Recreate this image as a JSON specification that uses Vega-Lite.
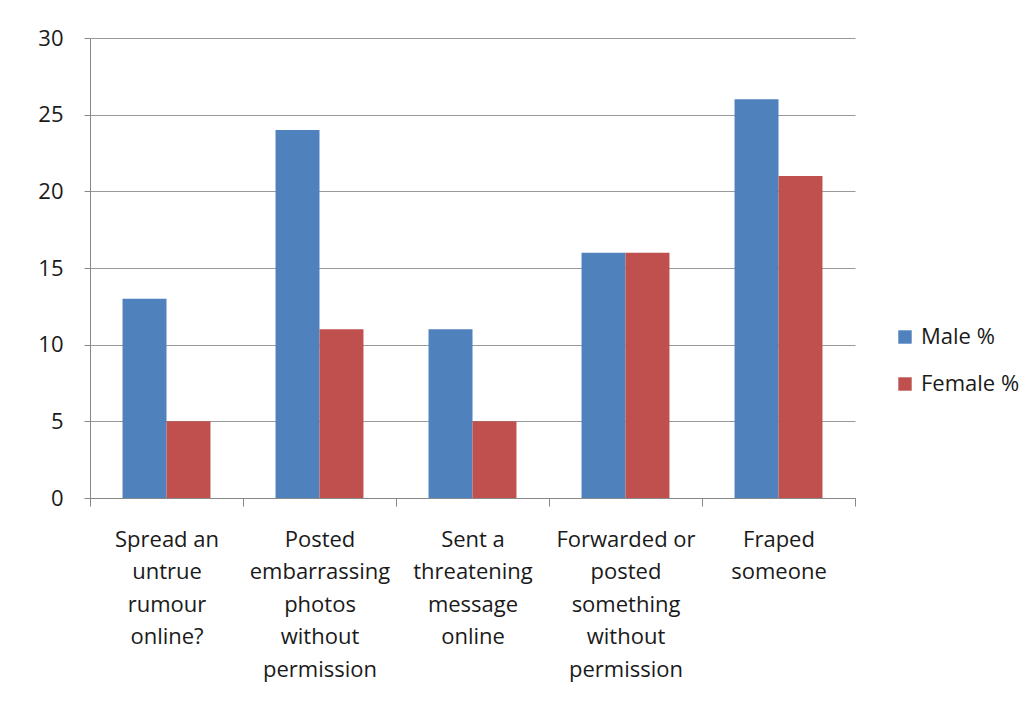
{
  "$schema": "https://vega.github.io/schema/vega-lite/v6.json",
  "width": 765,
  "height": 460,
  "autosize": {"type": "none"},
  "padding": {"left": 90, "top": 38, "right": 181, "bottom": 213},
  "background": "white",
  "config": {
    "view": {"stroke": null},
    "font": "Open Sans"
  },
  "data": {
    "values": [
      {"activity": "Spread an|untrue|rumour|online?", "order": 1, "gender": "Male %", "value": 13},
      {"activity": "Spread an|untrue|rumour|online?", "order": 1, "gender": "Female %", "value": 5},
      {"activity": "Posted|embarrassing|photos|without|permission", "order": 2, "gender": "Male %", "value": 24},
      {"activity": "Posted|embarrassing|photos|without|permission", "order": 2, "gender": "Female %", "value": 11},
      {"activity": "Sent a|threatening|message|online", "order": 3, "gender": "Male %", "value": 11},
      {"activity": "Sent a|threatening|message|online", "order": 3, "gender": "Female %", "value": 5},
      {"activity": "Forwarded or|posted|something|without|permission", "order": 4, "gender": "Male %", "value": 16},
      {"activity": "Forwarded or|posted|something|without|permission", "order": 4, "gender": "Female %", "value": 16},
      {"activity": "Fraped|someone", "order": 5, "gender": "Male %", "value": 26},
      {"activity": "Fraped|someone", "order": 5, "gender": "Female %", "value": 21}
    ]
  },
  "mark": {"type": "bar"},
  "encoding": {
    "x": {
      "field": "activity",
      "type": "nominal",
      "sort": {"field": "order"},
      "scale": {"paddingInner": 0, "paddingOuter": 0},
      "axis": {
        "title": null,
        "labelAngle": 0,
        "labelExpr": "split(datum.label, '|')",
        "labelFontSize": 22,
        "labelLineHeight": 32.5,
        "labelColor": "#1a1a1a",
        "labelPadding": 23,
        "labelBaseline": "top",
        "tickBand": "extent",
        "tickSize": 8,
        "tickColor": "#888888",
        "domainColor": "#888888",
        "grid": false
      }
    },
    "xOffset": {
      "field": "gender",
      "type": "nominal",
      "sort": ["Male %", "Female %"],
      "scale": {"paddingInner": 0, "paddingOuter": 0.74}
    },
    "y": {
      "field": "value",
      "type": "quantitative",
      "scale": {"domain": [0, 30], "nice": false},
      "axis": {
        "title": null,
        "values": [0, 5, 10, 15, 20, 25, 30],
        "labelFontSize": 22,
        "labelColor": "#1a1a1a",
        "labelPadding": 21,
        "tickSize": 6,
        "tickColor": "#888888",
        "domainColor": "#888888",
        "gridColor": "#999999",
        "grid": true
      }
    },
    "color": {
      "field": "gender",
      "type": "nominal",
      "sort": ["Male %", "Female %"],
      "scale": {"domain": ["Male %", "Female %"], "range": ["#4F81BD", "#C0504D"]},
      "legend": {
        "title": null,
        "orient": "none",
        "legendX": 804,
        "legendY": 288,
        "symbolType": "square",
        "symbolSize": 180,
        "symbolStrokeWidth": 0,
        "labelFontSize": 22,
        "labelColor": "#1a1a1a",
        "rowPadding": 25,
        "labelOffset": 5
      }
    }
  }
}
